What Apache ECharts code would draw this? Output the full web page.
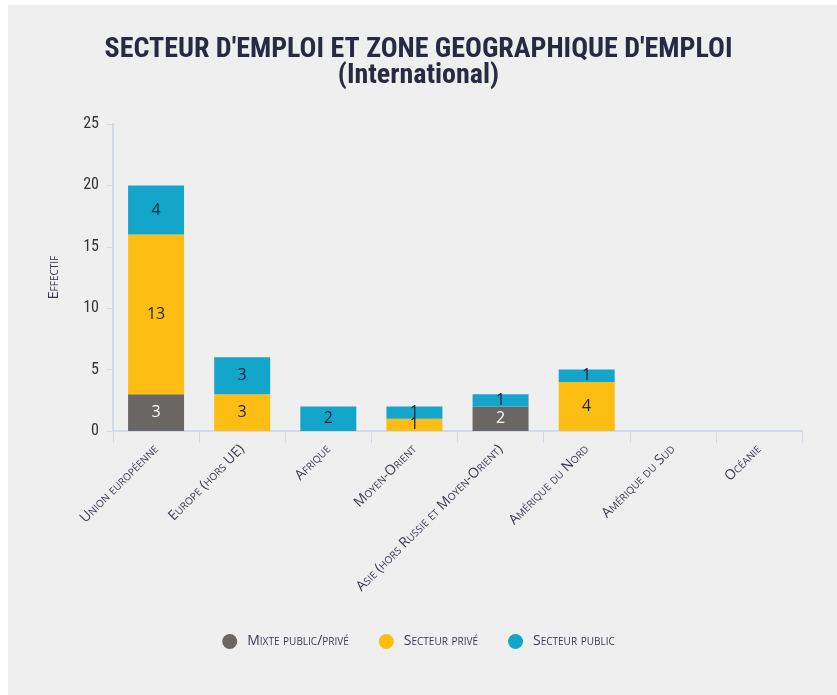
<!DOCTYPE html>
<html><head><meta charset="utf-8">
<script src="https://cdn.jsdelivr.net/npm/echarts@6/dist/echarts.min.js"></script>
<style>html,body{margin:0;padding:0;background:#fff}#c{width:837px;height:695px}</style>
</head><body><div id="c"></div>
<script>
const categories = ['Union européenne','Europe (hors UE)','Afrique','Moyen-Orient','Asie (hors Russie et Moyen-Orient)','Amérique du Nord','Amérique du Sud','Océanie'];
const mixte = [3, 0, 0, 0, 2, 0, 0, 0];
const prive = [13, 3, 0, 1, 0, 4, 0, 0];
const publicS = [4, 3, 2, 1, 1, 1, 0, 0];
const seriesNames = ['Mixte public/privé','Secteur privé','Secteur public'];
const yTicks = [0, 5, 10, 15, 20, 25];

const SC = 'small-caps';
const lblFont = '"Open Sans", "DejaVu Sans", sans-serif';
const chart = echarts.init(document.getElementById('c'));
const nz = a => a.map(v => v === 0 ? null : v);
function mk(name, data, color, lblColor){
  return {name, type:'bar', stack:'t', data:nz(data), barWidth:'65%',
    itemStyle:{color},
    label:{show:true, position:'inside', color:lblColor, fontSize:16, fontFamily:lblFont}};
}
chart.setOption({
  backgroundColor:'#fff',
  animation:false,
  graphic:[{type:'rect', left:8, top:5, shape:{width:829, height:690}, style:{fill:'#efefef'}, z:-10}],
  title:{text:"SECTEUR D'EMPLOI ET ZONE GEOGRAPHIQUE D'EMPLOI\n(International)", left:'center', top:32,
    textStyle:{fontSize:28, fontWeight:'bold', color:'#282a44', fontFamily:'"Liberation Sans Narrow","Roboto Condensed",Roboto,sans-serif', lineHeight:26}},
  legend:{top:629, left:'center', icon:'circle', itemWidth:15, itemHeight:15, itemGap:30,
    data:seriesNames,
    textStyle:{fontSize:14, color:'#3a3a50', fontStyle:SC, fontFamily:lblFont, padding:[0,0,0,5]}},
  grid:{left:113, right:35, top:124, bottom:264},
  xAxis:{type:'category', data:categories,
    axisLine:{lineStyle:{color:'#d3d9e8', width:2}},
    axisTick:{show:true, length:12, lineStyle:{color:'#d3d9e8'}},
    axisLabel:{rotate:45, interval:0, fontSize:14, color:'#3a3a50', fontStyle:SC, fontFamily:lblFont, margin:16}},
  yAxis:{type:'value', min:0, max:25, interval:5, name:'Effectif', nameLocation:'middle', nameGap:52,
    nameTextStyle:{fontSize:14, color:'#3a3a50', fontStyle:SC, fontFamily:lblFont},
    axisLine:{show:true, lineStyle:{color:'#d3d9e8', width:2}},
    axisTick:{show:true, length:6, lineStyle:{color:'#d3d9e8'}},
    splitLine:{show:false},
    axisLabel:{fontSize:16, color:'#333', fontFamily:'"Liberation Sans Narrow","Roboto Condensed", Arial, sans-serif', margin:14,
      formatter:v => yTicks.includes(v) ? String(v) : ''}},
  series:[
    mk(seriesNames[0], mixte, '#6a6664', '#ffffff'),
    mk(seriesNames[1], prive, '#fdbd12', '#1b2238'),
    mk(seriesNames[2], publicS, '#14a5cb', '#1b2238')
  ]
});
</script></body></html>
